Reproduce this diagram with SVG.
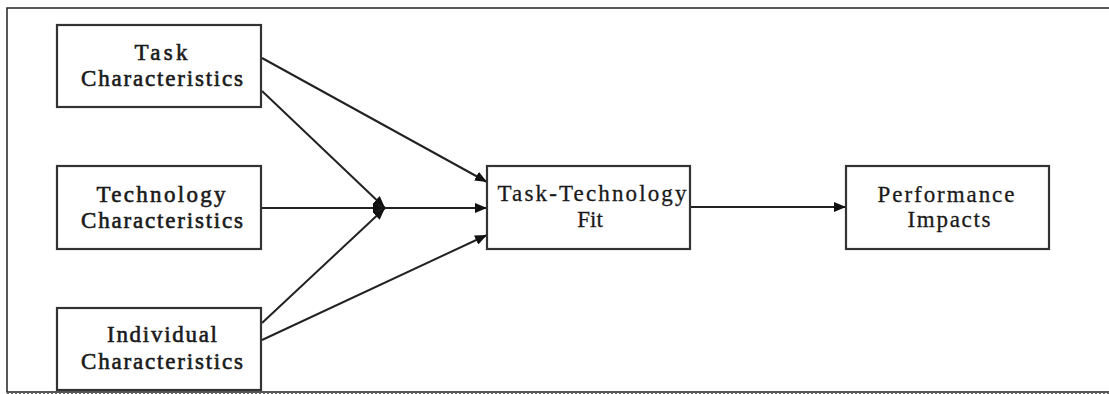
<svg xmlns="http://www.w3.org/2000/svg" width="1109" height="394" viewBox="0 0 1109 394">
<style>
.box{fill:#fff;stroke:#333;stroke-width:2.2}
.lbl{font-family:"Liberation Serif","Times New Roman",serif;font-size:23px;fill:#1a1a1a;text-anchor:middle;stroke:#1a1a1a;stroke-width:0.3}
.lblb{stroke-width:0.6}
.edge{fill:none;stroke:#222;stroke-width:2}
</style>
<defs>
<marker id="ah" viewBox="0 0 12 10" refX="12" refY="5" markerWidth="12" markerHeight="10" markerUnits="userSpaceOnUse" orient="auto">
<path d="M0,0 L12,5 L0,10 Z" fill="#111"/>
</marker>
</defs>
<rect x="0" y="0" width="1109" height="394" fill="#fff"/>
<path d="M1109,8 H7 V392 H1109" fill="none" stroke="#222" stroke-width="1.5"/>
<line x1="7" y1="393.5" x2="1109" y2="393.5" stroke="#666" stroke-width="1" stroke-dasharray="2,2"/>
<g id="connectors">
<path class="edge" d="M262,58 L487,182" marker-end="url(#ah)"/>
<path class="edge" d="M262,91 L385,208" marker-end="url(#ah)"/>
<path class="edge" d="M262,208 L385,208" marker-end="url(#ah)"/>
<path class="edge" d="M262,323 L385,208" marker-end="url(#ah)"/>
<path class="edge" d="M385,208 L487,208" marker-end="url(#ah)"/>
<path class="edge" d="M262,340 L487,235" marker-end="url(#ah)"/>
<path class="edge" d="M690,207 L846,207" marker-end="url(#ah)"/>
</g>
<g id="task">
<rect class="box" x="57" y="25" width="204" height="82"/>
<text class="lbl lblb" x="161" y="60" textLength="53" lengthAdjust="spacing">Task</text>
<text class="lbl lblb" x="162" y="86" textLength="162" lengthAdjust="spacing">Characteristics</text>
</g>
<g id="technology">
<rect class="box" x="57" y="166" width="204" height="83"/>
<text class="lbl lblb" x="161" y="202" textLength="129" lengthAdjust="spacing">Technology</text>
<text class="lbl lblb" x="162" y="228" textLength="162" lengthAdjust="spacing">Characteristics</text>
</g>
<g id="individual">
<rect class="box" x="57" y="308" width="204" height="82"/>
<text class="lbl lblb" x="162" y="342" textLength="110" lengthAdjust="spacing">Individual</text>
<text class="lbl lblb" x="162" y="369" textLength="162" lengthAdjust="spacing">Characteristics</text>
</g>
<g id="fit">
<rect class="box" x="487" y="166" width="203" height="83"/>
<text class="lbl" x="592" y="201" textLength="189" lengthAdjust="spacing">Task-Technology</text>
<text class="lbl" x="590" y="227">Fit</text>
</g>
<g id="performance">
<rect class="box" x="846" y="166" width="203" height="83"/>
<text class="lbl" x="946" y="202" textLength="137" lengthAdjust="spacing">Performance</text>
<text class="lbl" x="949" y="227" textLength="83" lengthAdjust="spacing">Impacts</text>
</g>
</svg>
